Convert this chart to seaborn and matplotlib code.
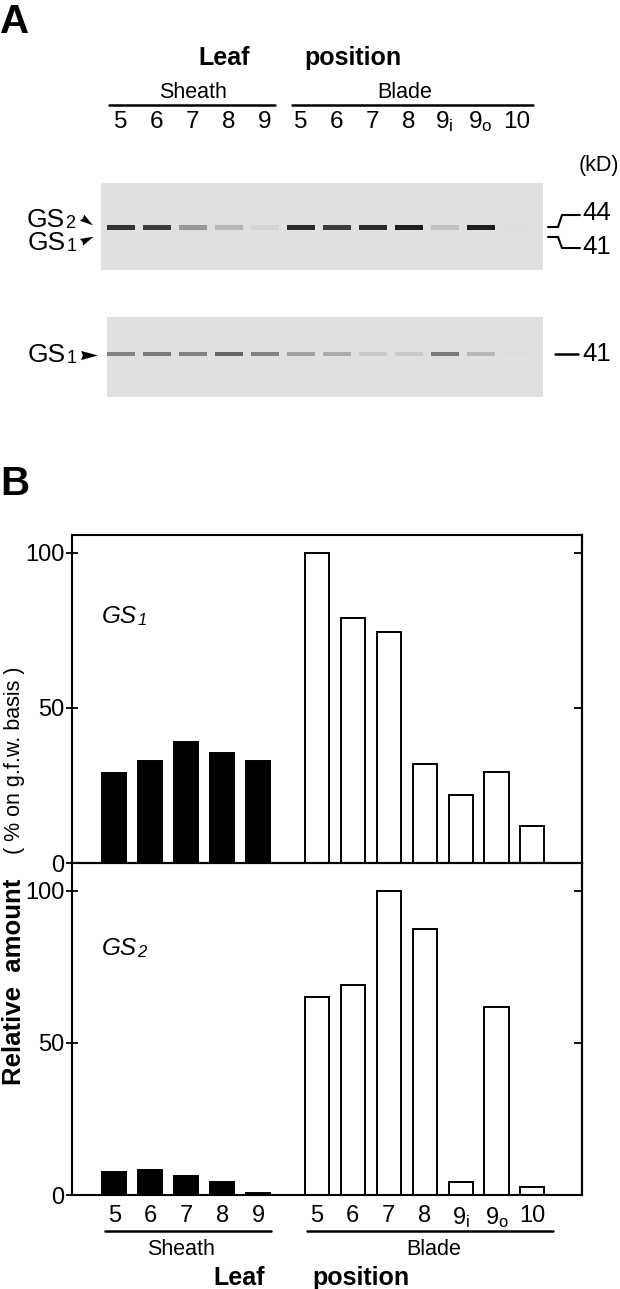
import numpy as np
import pandas as pd
import matplotlib
matplotlib.use("Agg")
import matplotlib.pyplot as plt
import seaborn as sns
from matplotlib.patches import Rectangle

# ---------------- data ----------------
sheath_leaves = ["5", "6", "7", "8", "9"]
blade_leaves = ["5", "6", "7", "8", r"9$_\mathregular{i}$", r"9$_\mathregular{o}$", "10"]
gs1_sheath = [29, 33, 39, 35.5, 33]
gs1_blade = [100, 79, 74.5, 32, 22, 29.5, 12]
gs2_sheath = [7.7, 8.2, 6.1, 4.4, 0.7]
gs2_blade = [65, 69, 100, 87.5, 4.4, 62, 2.5]
# immunoblot band intensities per lane (0 = none, 1 = strongest)
blot_gs2_band = [0.85, 0.8, 0.35, 0.2, 0.05, 0.9, 0.8, 0.9, 0.95, 0.15, 0.95, 0.0]
blot_gs1_band = [0.45, 0.5, 0.45, 0.6, 0.45, 0.3, 0.25, 0.1, 0.1, 0.5, 0.2, 0.0]
y_ticks = [0, 50, 100]

# ---------------- style ----------------
sns.set_theme(style="ticks")
plt.rcParams["font.family"] = ["Liberation Sans", "DejaVu Sans"]
plt.rcParams["mathtext.fontset"] = "custom"
plt.rcParams["mathtext.rm"] = "Liberation Sans"
plt.rcParams["mathtext.it"] = "Liberation Sans:italic"
plt.rcParams["mathtext.bf"] = "Liberation Sans:bold"
for k in ["axes.edgecolor", "text.color", "axes.labelcolor", "xtick.color", "ytick.color"]:
    plt.rcParams[k] = "black"

W, H = 620, 1289
fig = plt.figure(figsize=(W / 100, H / 100), dpi=100)

# overlay in pixel coordinates for annotations
ov = fig.add_axes([0, 0, 1, 1], zorder=0)
ov.set_xlim(0, W)
ov.set_ylim(H, 0)
ov.axis("off")


def ax_rect(x0, y0, x1, y1):
    return [x0 / W, 1 - y1 / H, (x1 - x0) / W, (y1 - y0) / H]


def sub_label(x, y, main, sub, fs, sub_fs, **kw):
    t = ov.text(x, y, main, fontsize=fs, ha="left", va="baseline", **kw)
    ov.annotate(sub, xy=(1.0, 0.0), xycoords=t, fontsize=sub_fs,
                ha="left", va="bottom", xytext=(0.2, 0),
                textcoords="offset points", **kw)
    return t


def arrowhead(angle_deg):
    """Slender wedge marker pointing in the given direction (screen degrees)."""
    base = np.array([[1.0, 0.0], [-1.0, 0.55], [-0.8, 0.0], [-1.0, -0.55], [1.0, 0.0]])
    a = np.deg2rad(angle_deg)
    rot = np.array([[np.cos(a), -np.sin(a)], [np.sin(a), np.cos(a)]])
    return base @ rot.T


# ================= Panel A =================
ov.text(0, 22, "A", fontsize=29, fontweight="bold", ha="left", va="center")
ov.text(224, 65, "Leaf", fontsize=18, fontweight="bold", ha="center", va="baseline")
ov.text(353, 65, "position", fontsize=18, fontweight="bold", ha="center", va="baseline")
ov.text(193, 98, "Sheath", fontsize=15.5, ha="center", va="baseline")
ov.text(405, 98, "Blade", fontsize=15.5, ha="center", va="baseline")
ov.plot([109, 275], [105, 105], color="black", lw=1.8)
ov.plot([292, 533], [105, 105], color="black", lw=1.8)

lane_labels = sheath_leaves + blade_leaves
lane_x = 120.5 + 36 * np.arange(len(lane_labels))
for lx, lab in zip(lane_x, lane_labels):
    ov.text(lx, 128, lab, fontsize=17.5, ha="center", va="baseline")
ov.text(619, 165, "(kD)", fontsize=15.5, ha="right", va="center")

# blots
ov.add_patch(Rectangle((101, 183), 442, 87, fc="#e0e0e0", ec="none"))
ov.add_patch(Rectangle((107, 317), 436, 80, fc="#e0e0e0", ec="none"))


def band_colors(vals):
    return [str(round(0.87 * (1 - v) + 0.08 * v, 3)) for v in vals]


ov.bar(lane_x, 4.5, bottom=225, width=28, color=band_colors(blot_gs2_band), edgecolor="none")
ov.bar(lane_x, 4, bottom=352, width=28, color=band_colors(blot_gs1_band), edgecolor="none")

sub_label(27, 227, "GS", "2", 19, 13)
sub_label(28, 250, "GS", "1", 19, 13)
sub_label(28, 362, "GS", "1", 19, 13)
ov.plot([87], [220.5], marker=arrowhead(-35), color="black", ms=11, mew=0)
ov.plot([87], [239], marker=arrowhead(25), color="black", ms=11, mew=0)
ov.plot([89], [354.5], marker=arrowhead(0), color="black", ms=12, mew=0)

ov.plot([548, 558, 562, 580], [227, 227, 215, 215], color="black", lw=1.5)
ov.plot([548, 558, 562, 580], [237, 237, 248, 248], color="black", lw=1.5)
ov.text(582, 213, "44", fontsize=18.5, ha="left", va="center")
ov.text(582, 247, "41", fontsize=18.5, ha="left", va="center")
ov.plot([555, 578], [354, 354], color="black", lw=1.8)
ov.text(582, 354, "41", fontsize=18.5, ha="left", va="center")

# ================= Panel B =================
ov.text(0, 484, "B", fontsize=29, fontweight="bold", ha="left", va="center")

parts = ["Sheath"] * len(sheath_leaves) + ["Blade"] * len(blade_leaves)
gap = 0.64
pos = [i if p == "Sheath" else i + gap for i, p in enumerate(parts)]
df = pd.DataFrame({
    "pos": pos,
    "part": parts,
    "GS1": gs1_sheath + gs1_blade,
    "GS2": gs2_sheath + gs2_blade,
})

ax1 = fig.add_axes(ax_rect(72, 535, 582, 863), zorder=2)
ax2 = fig.add_axes(ax_rect(72, 863, 582, 1195), zorder=2)

for ax, col, top in [(ax1, "GS1", 105.8), (ax2, "GS2", 109.2)]:
    sns.barplot(data=df, x="pos", y=col, hue="part",
                palette={"Sheath": "black", "Blade": "white"},
                native_scale=True, dodge=False, width=0.67,
                edgecolor="black", linewidth=1.4, errorbar=None,
                legend=False, ax=ax)
    ax.set_xlim(-1.18, 13.02)
    ax.set_ylim(0, top)
    ax.set_yticks(y_ticks)
    ax.set_xlabel("")
    ax.set_ylabel("")
    ax.set_facecolor("none")
    for s in ax.spines.values():
        s.set_linewidth(1.5)
        s.set_color("black")
    ax.tick_params(axis="y", direction="inout", left=True, right=False,
                   length=9, width=1.3, labelsize=17, pad=1)
    ax.tick_params(axis="x", length=0, labelsize=17, pad=7)
    sec = ax.secondary_yaxis("right")
    sec.set_yticks(y_ticks)
    sec.tick_params(axis="y", direction="in", length=6, width=1.3,
                    labelright=False)
    sec.spines["right"].set_linewidth(1.5)

ax1.set_xticks([])
ax2.set_xticks(pos)
ax2.set_xticklabels(lane_labels)

sub_label(102, 623, "GS", "1", 17.5, 12, fontstyle="italic")
sub_label(102, 955, "GS", "2", 17.5, 12, fontstyle="italic")

ov.text(15, 760, "( % on g.f.w. basis )", rotation=90, fontsize=15.5,
        ha="center", va="center")
ov.text(14, 982, "Relative  amount", rotation=90, fontsize=18.5,
        fontweight="bold", ha="center", va="center")

ov.plot([105, 271], [1231, 1231], color="black", lw=1.8)
ov.plot([307, 553], [1231, 1231], color="black", lw=1.8)
ov.text(181, 1255, "Sheath", fontsize=15.5, ha="center", va="baseline")
ov.text(434, 1255, "Blade", fontsize=15.5, ha="center", va="baseline")
ov.text(239, 1285, "Leaf", fontsize=18, fontweight="bold", ha="center", va="baseline")
ov.text(361, 1285, "position", fontsize=18, fontweight="bold", ha="center", va="baseline")

fig.savefig("out.png", dpi=100)
